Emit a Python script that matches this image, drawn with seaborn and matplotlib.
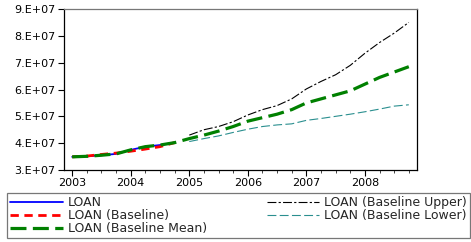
import numpy as np
import pandas as pd
import matplotlib
matplotlib.use("Agg")
import matplotlib.pyplot as plt
import seaborn as sns
from matplotlib.ticker import FuncFormatter, MultipleLocator

# ---- data (values in units of 1e7) ----
hist_dates = [2003.0, 2003.25, 2003.5, 2003.75, 2004.0, 2004.25, 2004.5, 2004.75]
loan = [3.49, 3.51, 3.55, 3.60, 3.75, 3.87, 3.93, 4.02]
baseline = [3.49, 3.52, 3.58, 3.63, 3.70, 3.78, 3.87, 4.02]

fc_dates = [2005.0, 2005.25, 2005.5, 2005.75, 2006.0, 2006.25, 2006.5, 2006.75,
            2007.0, 2007.25, 2007.5, 2007.75, 2008.0, 2008.25, 2008.5, 2008.75]
mean_fc = [4.17, 4.30, 4.45, 4.62, 4.82, 4.95, 5.08, 5.25,
           5.50, 5.65, 5.80, 5.95, 6.20, 6.45, 6.65, 6.85]
upper = [4.30, 4.50, 4.62, 4.80, 5.05, 5.25, 5.40, 5.65,
         6.02, 6.30, 6.55, 6.90, 7.35, 7.75, 8.10, 8.50]
lower = [4.06, 4.17, 4.27, 4.40, 4.52, 4.62, 4.68, 4.72,
         4.85, 4.92, 5.00, 5.08, 5.17, 5.27, 5.38, 5.43]

year_ticks = [2003, 2004, 2005, 2006, 2007, 2008]
ytick_vals = [3, 4, 5, 6, 7, 8, 9]

sns.set_style("white")
plt.rcParams['font.family'] = ['DejaVu Sans']

scale = 1e7
fig = plt.figure(figsize=(4.71, 2.42), dpi=100)
ax = fig.add_axes([64 / 471, 1 - 170 / 242, (417 - 64) / 471, (170 - 9) / 242])

h_loan = sns.lineplot(x=hist_dates, y=np.array(loan) * scale, ax=ax, color="#0000ff",
                      linewidth=1.3, label="LOAN").lines[-1]
h_base = sns.lineplot(x=hist_dates, y=np.array(baseline) * scale, ax=ax, color="#ff0000",
                      linewidth=2.0, linestyle=(0, (3, 2)), label="LOAN (Baseline)").lines[-1]
h_up = sns.lineplot(x=fc_dates, y=np.array(upper) * scale, ax=ax, color="black",
                    linewidth=0.8, linestyle=(0, (8, 2, 2, 2)), label="LOAN (Baseline Upper)").lines[-1]
h_low = sns.lineplot(x=fc_dates, y=np.array(lower) * scale, ax=ax, color="#2a8f8f",
                     linewidth=0.8, linestyle=(0, (8, 3)), label="LOAN (Baseline Lower)").lines[-1]
mean_all_x = hist_dates + fc_dates
mean_all_y = np.array(loan + mean_fc) * scale
h_mean = sns.lineplot(x=mean_all_x, y=mean_all_y, ax=ax, color="#008000",
                      linewidth=2.3, linestyle=(0, (5, 2)), label="LOAN (Baseline Mean)").lines[-1]
ax.get_legend().remove()

ax.set_xlim(2002.86, 2008.89)
ax.set_ylim(3e7, 9e7)
ax.set_xticks(year_ticks)
ax.set_xticklabels([str(y) for y in year_ticks])
ax.xaxis.set_minor_locator(MultipleLocator(0.25))
ax.set_yticks([v * scale for v in ytick_vals])
ax.yaxis.set_major_formatter(FuncFormatter(lambda v, p: f"{v / 1e7:.0f}.E+07"))
ax.tick_params(axis="both", which="major", direction="out", length=4, width=0.8,
               labelsize=8, colors="black", pad=2, bottom=True, left=True)
ax.tick_params(axis="x", which="minor", direction="out", length=2, width=0.6, bottom=True)
for s in ["left", "bottom", "right"]:
    ax.spines[s].set_color("black")
    ax.spines[s].set_linewidth(0.9)
ax.spines["top"].set_color("#777777")
ax.spines["top"].set_linewidth(0.9)
ax.set_xlabel("")
ax.set_ylabel("")

handles = [h_loan, h_base, h_mean, h_up, h_low]
labels = ["LOAN", "LOAN (Baseline)", "LOAN (Baseline Mean)",
          "LOAN (Baseline Upper)", "LOAN (Baseline Lower)"]
leg = fig.legend(handles, labels, loc="upper left", ncol=2, mode="expand",
                 bbox_to_anchor=(7 / 471, 1 - 237 / 242, 1 - 7 / 471 - 1 / 471, 44 / 242),
                 fontsize=9, frameon=True, fancybox=False, borderaxespad=0,
                 labelspacing=0.0, handlelength=4.2, handletextpad=0.4,
                 borderpad=0.25, columnspacing=1.0)
leg.get_frame().set_edgecolor("#555555")
leg.get_frame().set_linewidth(0.9)

fig.savefig("out.png", dpi=100)
